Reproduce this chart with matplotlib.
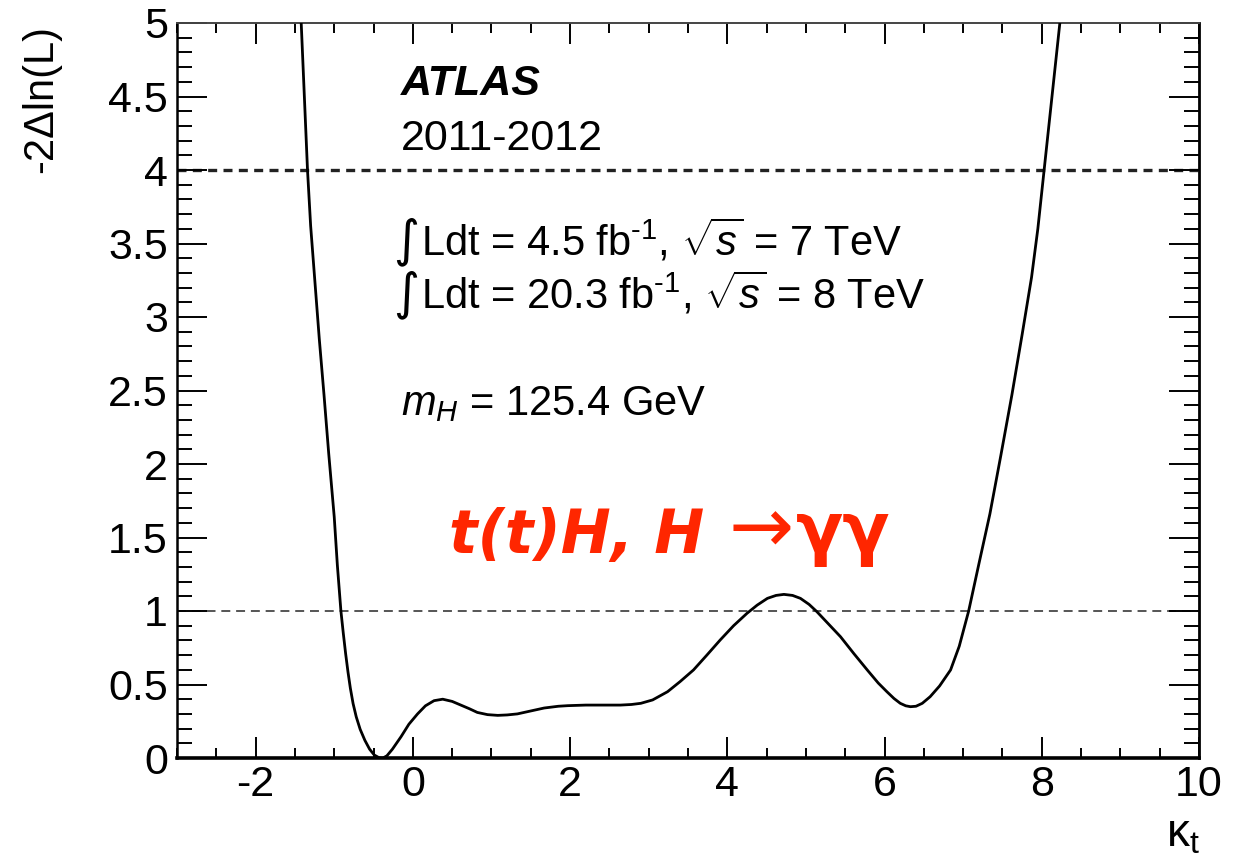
import matplotlib
matplotlib.use("Agg")
import matplotlib.pyplot as plt
from matplotlib.ticker import FixedLocator, FixedFormatter, MultipleLocator

# Profile likelihood scan of the top Yukawa coupling modifier
kappa_t = [-1.42, -1.38, -1.34, -1.30, -1.25, -1.19, -1.13, -1.07, -1.00, -0.96,
           -0.915, -0.885, -0.855, -0.825, -0.795, -0.76, -0.72, -0.67, -0.61, -0.55,
           -0.49, -0.43, -0.38, -0.33, -0.26, -0.15, -0.05, 0.06, 0.16, 0.27,
           0.38, 0.50, 0.61, 0.72, 0.82, 0.95, 1.08, 1.20, 1.33, 1.50,
           1.67, 1.85, 1.97, 2.20, 2.39, 2.64, 2.78, 2.90, 3.05, 3.24,
           3.40, 3.57, 3.74, 3.91, 4.08, 4.25, 4.38, 4.51, 4.62, 4.72,
           4.83, 4.93, 5.04, 5.14, 5.29, 5.44, 5.61, 5.78, 5.92, 6.03,
           6.12, 6.20, 6.27, 6.33, 6.40, 6.48, 6.58, 6.70, 6.84, 6.95,
           7.07, 7.20, 7.34, 7.48, 7.62, 7.75, 7.87, 7.95, 8.03, 8.13,
           8.23]
nll = [5.00, 4.50, 4.00, 3.62, 3.27, 2.85, 2.47, 2.07, 1.64, 1.31,
       1.00, 0.85, 0.71, 0.585, 0.475, 0.37, 0.28, 0.195, 0.12, 0.06,
       0.02, 0.002, 0.00, 0.015, 0.06, 0.145, 0.23, 0.30, 0.355, 0.39,
       0.40, 0.385, 0.36, 0.335, 0.31, 0.295, 0.29, 0.293, 0.30, 0.32,
       0.34, 0.352, 0.356, 0.36, 0.36, 0.36, 0.364, 0.372, 0.395, 0.451,
       0.52, 0.599, 0.70, 0.803, 0.90, 0.984, 1.04, 1.086, 1.106, 1.113,
       1.106, 1.086, 1.045, 0.995, 0.91, 0.825, 0.71, 0.599, 0.51, 0.451,
       0.405, 0.372, 0.355, 0.349, 0.352, 0.372, 0.417, 0.49, 0.599, 0.76,
       1.00, 1.32, 1.66, 2.06, 2.47, 2.88, 3.27, 3.60, 4.00, 4.50,
       5.00]

x_major = [-2, 0, 2, 4, 6, 8, 10]
x_labels = ["-2", "0", "2", "4", "6", "8", "10"]
y_major = [0, 0.5, 1, 1.5, 2, 2.5, 3, 3.5, 4, 4.5, 5]
y_labels = ["0", "0.5", "1", "1.5", "2", "2.5", "3", "3.5", "4", "4.5", "5"]
ref_levels = [1, 4]

plt.rcParams.update({
    "font.family": ["Liberation Sans", "DejaVu Sans"],
    "mathtext.fontset": "custom",
    "mathtext.rm": "Liberation Sans",
    "mathtext.it": "Liberation Sans:italic",
    "mathtext.bf": "Liberation Sans:bold",
    "axes.unicode_minus": False,
})

W, H = 1252, 856
fig = plt.figure(figsize=(W / 100, H / 100), dpi=100)
left, right, top, bottom = 177, 1199, 23, 758
ax = fig.add_axes([left / W, 1 - bottom / H, (right - left) / W, (bottom - top) / H])

# reference levels (1 and 2 sigma)
ax.axhline(ref_levels[1], color="#222222", lw=2.4, ls=(0, (2.7, 1.9)), zorder=1)
ax.axhline(ref_levels[0], color="#555555", lw=1.4, ls=(0, (4.6, 3.0)), zorder=1)

ax.plot(kappa_t, nll, color="black", lw=2.0, solid_joinstyle="round",
        solid_capstyle="round", zorder=3)

ax.set_xlim(-3, 10)
ax.set_ylim(0, 5)

ax.xaxis.set_major_locator(FixedLocator(x_major))
ax.xaxis.set_major_formatter(FixedFormatter(x_labels))
ax.xaxis.set_minor_locator(MultipleLocator(0.5))
ax.yaxis.set_major_locator(FixedLocator(y_major))
ax.yaxis.set_major_formatter(FixedFormatter(y_labels))
ax.yaxis.set_minor_locator(MultipleLocator(0.1))

ax.tick_params(axis="x", which="major", direction="in", length=15, width=1.4,
               top=True, labelsize=31, pad=5, colors="black")
ax.tick_params(axis="x", which="minor", direction="in", length=7.5, width=1.4, top=True)
ax.tick_params(axis="y", which="major", direction="in", length=21.5, width=1.4,
               right=True, labelsize=31, pad=6.5)
ax.tick_params(axis="y", which="minor", direction="in", length=10.8, width=1.4, right=True)

ax.spines["bottom"].set_linewidth(2.6)
ax.spines["left"].set_linewidth(1.8)
ax.spines["right"].set_linewidth(2.0)
ax.spines["top"].set_linewidth(1.4)
ax.spines["top"].set_color("#444444")

# axis titles
fig.text(41 / W, 1 - 25 / H, "-2\u0394ln(L)", rotation=90, ha="center", va="top",
         fontsize=30)
fig.text(1166 / W, 1 - 847 / H, r"$\mathrm{\kappa}_\mathrm{t}$", ha="left",
         va="baseline", fontsize=33)

# labels inside the frame
ax.text(-0.15, 4.51, "ATLAS", fontsize=31, fontweight="bold", fontstyle="italic",
        va="baseline", ha="left")
ax.text(-0.15, 4.136, "2011-2012", fontsize=31, va="baseline", ha="left")

ax.text(-0.245, 3.42, "\u222b", family="DejaVu Sans", fontsize=36, va="baseline", ha="left")
ax.text(-0.245, 3.06, "\u222b", family="DejaVu Sans", fontsize=36, va="baseline", ha="left")
ax.text(0.10, 3.42, r"Ldt = 4.5 fb$^{\text{-1}}$, $\sqrt{\mathit{s}}$ = 7 TeV",
        fontsize=30, va="baseline", ha="left")
ax.text(0.10, 3.06, r"Ldt = 20.3 fb$^{\text{-1}}$, $\sqrt{\mathit{s}}$ = 8 TeV",
        fontsize=30, va="baseline", ha="left")
ax.text(-0.15, 2.33, r"$\mathit{m}_\mathit{H}$ = 125.4 GeV", fontsize=30,
        va="baseline", ha="left")

red = "#ff2600"
ax.text(0.457, 1.395, "t(t)H, H", family="DejaVu Sans", fontsize=43,
        fontweight="bold", fontstyle="italic", color=red, va="baseline", ha="left")
ax.text(4.02, 1.395, "\u2192", family="DejaVu Sans", fontsize=56,
        color=red, va="baseline", ha="left")
ax.text(4.87, 1.395, "\u03b3\u03b3", family="DejaVu Sans", fontsize=50,
        fontweight="bold", color=red, va="baseline", ha="left")

fig.savefig("out.png", dpi=100)
